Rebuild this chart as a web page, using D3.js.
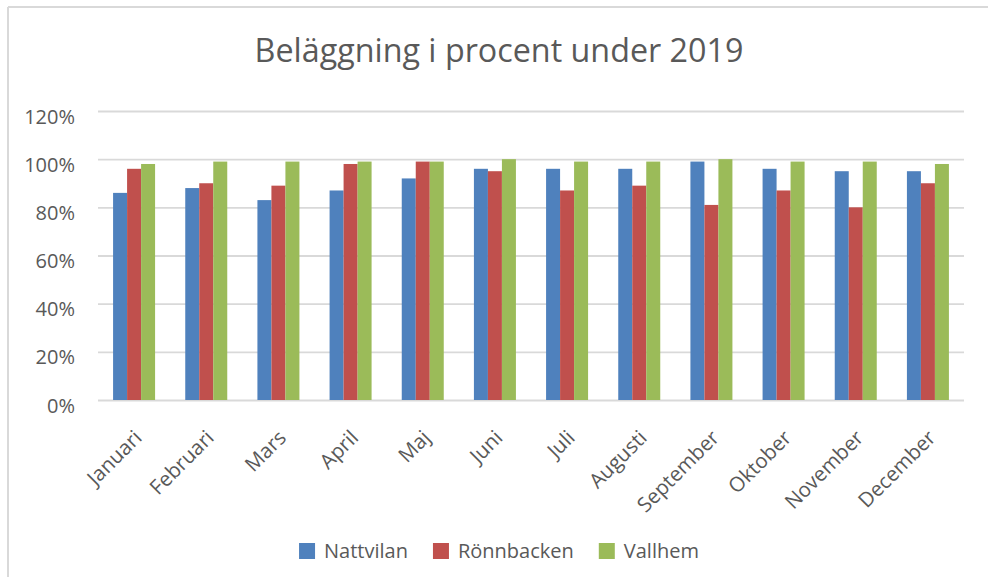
<!DOCTYPE html>
<html>
<head>
<meta charset="utf-8">
<script src="https://cdn.jsdelivr.net/npm/d3@7"></script>
<style>
  html, body { margin: 0; padding: 0; background: #ffffff; }
  svg { display: block; }
  text { font-family: "Open Sans", "Noto Sans", sans-serif; fill: #595959; }
</style>
</head>
<body>
<svg id="chart" width="988" height="577"></svg>
<script>
const title = "Beläggning i procent under 2019";
const months = ["Januari", "Februari", "Mars", "April", "Maj", "Juni", "Juli", "Augusti", "September", "Oktober", "November", "December"];
const seriesNames = ["Nattvilan", "Rönnbacken", "Vallhem"];
const nattvilan  = [86, 88, 83, 87, 92, 96, 96, 96, 99, 96, 95, 95];
const ronnbacken = [96, 90, 89, 98, 99, 95, 87, 89, 81, 87, 80, 90];
const vallhem    = [98, 99, 99, 99, 99, 100, 99, 99, 100, 99, 99, 98];
const yTicks = [0, 20, 40, 60, 80, 100, 120];
const colors = ["#4F81BD", "#C0504D", "#9BBB59"];

const seriesValues = [nattvilan, ronnbacken, vallhem];
const rows = months.map((m, i) => ({ month: m, values: seriesValues.map(s => s[i]) }));

const svg = d3.select("#chart");
const W = 988, H = 577;
const plot = { left: 98, right: 964, top: 111, bottom: 400 };

// chart frame (left and top edges visible)
svg.append("line").attr("x1", 8).attr("x2", 8).attr("y1", 7).attr("y2", H)
  .attr("stroke", "#d9d9d9").attr("stroke-width", 2);
svg.append("line").attr("x1", 8).attr("x2", W).attr("y1", 7).attr("y2", 7)
  .attr("stroke", "#d9d9d9").attr("stroke-width", 2);

// title
const titleText = svg.append("text")
  .attr("x", 499).attr("y", 62)
  .attr("text-anchor", "middle")
  .style("font-size", "30px")
  .text(title);
const tw = titleText.node().getComputedTextLength();
titleText.style("font-size", (30 * 489 / tw).toFixed(2) + "px");

const x0 = d3.scaleBand().domain(months).range([plot.left, plot.right])
  .paddingInner(0.418).paddingOuter(0.209);
const x1 = d3.scaleBand().domain(seriesNames).range([0, x0.bandwidth()]);
const y = d3.scaleLinear().domain([0, 120]).range([plot.bottom, plot.top]);

// gridlines + y labels
const yAxis = d3.axisLeft(y).tickValues(yTicks)
  .tickSize(-(plot.right - plot.left))
  .tickFormat(d => d + "%")
  .tickPadding(23);
const gy = svg.append("g").attr("transform", `translate(${plot.left},0)`).call(yAxis);
gy.select(".domain").remove();
gy.selectAll(".tick line").attr("stroke", "#d9d9d9").attr("stroke-width", 1.8);
gy.selectAll(".tick text")
  .attr("dy", "12px")
  .style("font-size", "20px")
  .style("fill", "#595959");

// bars
const groups = svg.append("g").selectAll("g").data(rows).join("g")
  .attr("transform", d => `translate(${x0(d.month)},0)`);
groups.selectAll("rect")
  .data(d => d.values.map((v, k) => ({ name: seriesNames[k], v: v, k: k })))
  .join("rect")
  .attr("x", d => x1(d.name))
  .attr("width", x1.bandwidth())
  .attr("y", d => y(d.v))
  .attr("height", d => y(0) - y(d.v))
  .attr("fill", d => colors[d.k]);

// x axis labels
const xAxis = d3.axisBottom(x0).tickSize(0).tickPadding(0);
const gx = svg.append("g").attr("transform", `translate(0,${plot.bottom})`).call(xAxis);
gx.select(".domain").remove();
gx.selectAll(".tick text")
  .attr("text-anchor", "end")
  .attr("transform", "translate(9,39) rotate(-45)")
  .attr("y", 0).attr("dy", 0)
  .style("font-size", "20.5px")
  .style("fill", "#595959");

// legend
const legend = svg.append("g");
let cx = 0;
seriesNames.forEach((name, k) => {
  const g = legend.append("g").attr("transform", `translate(${cx},0)`);
  g.append("rect").attr("x", 0).attr("y", 543).attr("width", 16).attr("height", 16).attr("fill", colors[k]);
  const t = g.append("text").attr("x", 25).attr("y", 558).style("font-size", "20px").text(name);
  cx += 25 + t.node().getComputedTextLength() + 25;
});
const totalW = cx - 25;
legend.attr("transform", `translate(${499 - totalW / 2},0)`);
</script>
</body>
</html>
